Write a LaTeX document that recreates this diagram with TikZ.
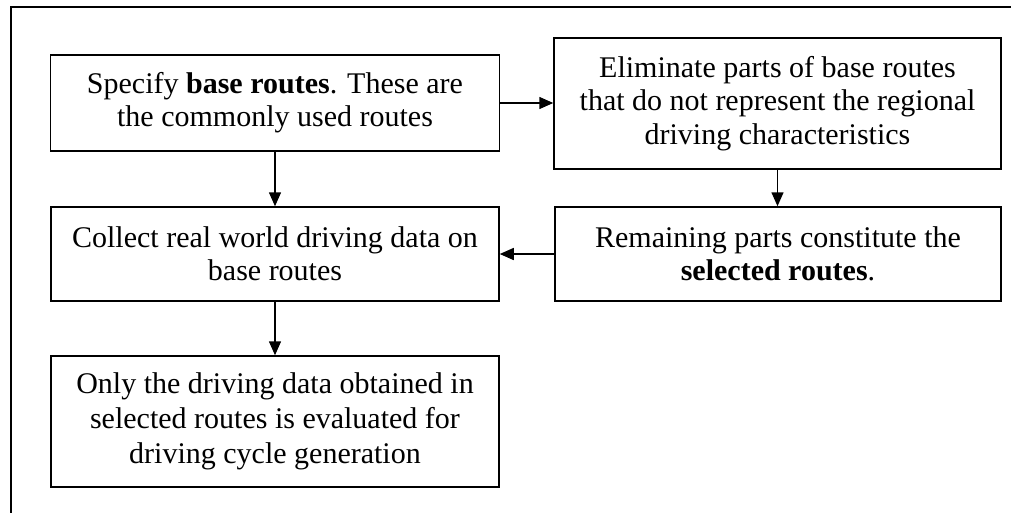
\documentclass[tikz,border=0pt]{standalone}
\usepackage{fontspec}
\setmainfont{Liberation Serif}
\usetikzlibrary{arrows.meta}
\tikzset{
  stepbox/.style={draw, line width=1.5pt, align=center, inner sep=0pt,
    font=\fontsize{30}{33.3}\selectfont},
  flow/.style={line width=1.5pt, -{Triangle[length=14pt,width=12pt]}}
}
\begin{document}
\begin{tikzpicture}[x=1pt,y=-1pt]
  \useasboundingbox (0,0) rectangle (1011,512);
  % outer frame
  \draw[line width=2pt] (11,6.5) rectangle (1030,517);

  \node[stepbox, minimum width=449pt, minimum height=96pt] (specify) at (275,103)
    {Specify \textbf{base routes}. These are\\the commonly used routes};
  \node[stepbox, minimum width=447pt, minimum height=131pt] (elim) at (777.5,103.5)
    {Eliminate parts of base routes\\that do not represent the regional\\driving characteristics};
  \node[stepbox, minimum width=448pt, minimum height=94pt] (collect) at (275,254)
    {Collect real world driving data on\\base routes};
  \node[stepbox, minimum width=446pt, minimum height=94pt] (remain) at (778,254)
    {Remaining parts constitute the\\\textbf{selected routes}.};
  \node[stepbox, font=\fontsize{30}{35}\selectfont,
        minimum width=448pt, minimum height=131pt] (only) at (275,421.5)
    {Only the driving data obtained in\\selected routes is evaluated for\\driving cycle generation};

  \draw[flow] (specify.east) -- (elim.west |- specify.east);
  \draw[flow] (specify.south) -- (collect.north);
  \draw[flow] (elim.south) -- (elim.south |- remain.north);
  \draw[flow] (remain.west) -- (collect.east);
  \draw[flow] (collect.south) -- (only.north);
\end{tikzpicture}
\end{document}
